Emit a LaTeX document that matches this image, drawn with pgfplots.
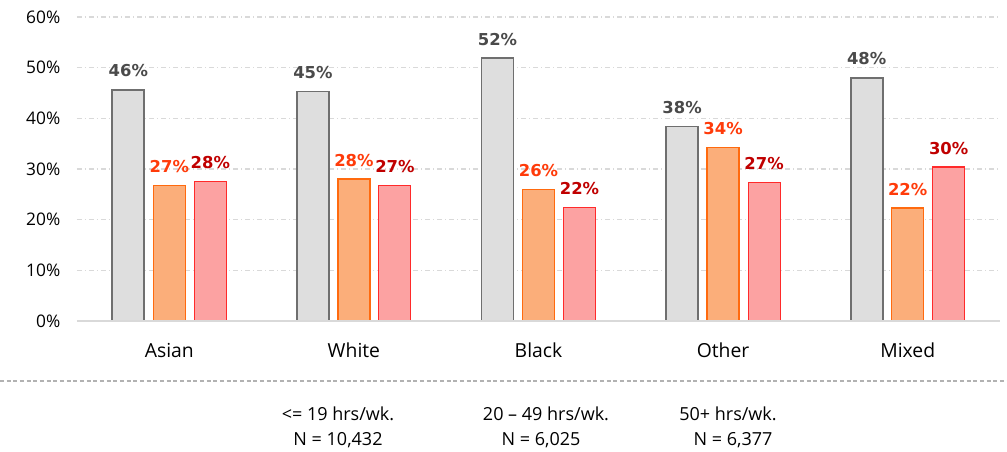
\documentclass[border=0pt]{standalone}
\usepackage{pgfplots}
\pgfplotsset{compat=1.18}
\usepackage{fontspec}
\setmainfont{Open Sans}
\newfontfamily\lblfont{DejaVu Sans}
\definecolor{gfill}{HTML}{DEDEDE}
\definecolor{gedge}{HTML}{6F6F6F}
\definecolor{ofill}{HTML}{FBAE7A}
\definecolor{oedge}{HTML}{FF6A0E}
\definecolor{pfill}{HTML}{FCA2A2}
\definecolor{pedge}{HTML}{FF2A2A}
\definecolor{glbl}{HTML}{4A4A4A}
\definecolor{olbl}{HTML}{FF3B0A}
\definecolor{plbl}{HTML}{C00000}
\definecolor{gridc}{HTML}{D9D9D9}
\begin{document}
\begin{tikzpicture}
\path[use as bounding box] (-57.75pt,-97.5pt) rectangle (697.5pt,240.75pt);
\begin{axis}[
  at={(0,0)}, anchor=south west,
  scale only axis, width=692.25pt, height=228pt,
  ybar=6.75pt, bar width=24pt,
  xmin=-0.5, xmax=4.5, ymin=0, ymax=60,
  xtick={0,1,2,3,4},
  xticklabels={Asian,White,Black,Other,Mixed},
  ytick={0,10,20,30,40,50,60},
  yticklabel={\pgfmathprintnumber{\tick}\%},
  /pgf/number format/assume math mode=true,
  axis line style={draw=none},
  axis x line*=bottom, axis y line*=left,
  major tick length=0pt,
  ymajorgrids, grid style={gridc, line width=0.8pt, dash pattern=on 4pt off 2pt on 1pt off 2pt},
  tick label style={font=\fontsize{13}{15}\selectfont, black},
  xticklabel style={font=\fontsize{14.5}{16}\selectfont, yshift=-13pt},
  yticklabel style={xshift=-9pt},
  point meta=y,
  nodes near coords={\pgfmathprintnumber[fixed,precision=0]{\pgfplotspointmeta}\%},
  nodes near coords style={anchor=south, inner sep=0pt, yshift=9pt, font=\lblfont\bfseries\fontsize{12.3}{14}\selectfont},
  clip=false,
]
\addplot[fill=gfill, draw=gedge, line width=1.2pt, nodes near coords style={text=glbl}]
  coordinates {(0,45.6) (1,45.3) (2,51.9) (3,38.4) (4,48.0)};
\addplot[fill=ofill, draw=oedge, line width=1pt, nodes near coords style={text=olbl}]
  coordinates {(0,26.8) (1,28.0) (2,25.9) (3,34.3) (4,22.3)};
\addplot[fill=pfill, draw=pedge, line width=0.8pt, nodes near coords style={text=plbl}]
  coordinates {(0,27.6) (1,26.8) (2,22.4) (3,27.4) (4,30.4)};
\draw[gridc, line width=1.5pt] (rel axis cs:0,0) -- (rel axis cs:1,0);
\end{axis}
\draw[gray!60, line width=0.8pt, dash pattern=on 3pt off 2pt] (-57.75pt,-45pt) -- (697.5pt,-45pt);
\begin{scope}[every node/.style={font=\fontsize{13.5}{15}\selectfont, inner sep=0pt}]
\node at (195.75pt,-69.5pt) {<= 19 hrs/wk.};
\node at (195.75pt,-89pt) {N = 10,432};
\node at (351.75pt,-69.5pt) {20 – 49 hrs/wk.};
\node at (348pt,-89pt) {N = 6,025};
\node at (488.25pt,-69.5pt) {50+ hrs/wk.};
\node at (492pt,-89pt) {N = 6,377};
\end{scope}
\end{tikzpicture}
\end{document}
